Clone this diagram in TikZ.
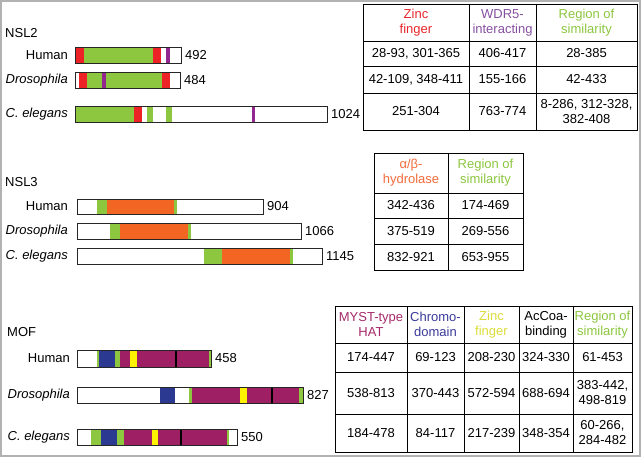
\documentclass[tikz,border=0pt]{standalone}
\usepackage{fontspec}
\setmainfont{Liberation Sans}
\definecolor{cred}{HTML}{EC2227}
\definecolor{cgreen}{HTML}{8DC63F}
\definecolor{cpurple}{HTML}{92278F}
\definecolor{corange}{HTML}{F26522}
\definecolor{cblue}{HTML}{2B3990}
\definecolor{cmag}{HTML}{9E1F63}
\definecolor{cyel}{HTML}{FFF200}
\definecolor{hred}{HTML}{E8262B}
\definecolor{hpurple}{HTML}{8550A0}
\definecolor{hgreen}{HTML}{8CC63F}
\definecolor{horange}{HTML}{F26B3A}
\definecolor{hmag}{HTML}{A52A6B}
\definecolor{hblue}{HTML}{3A3A9A}
\definecolor{hyel}{HTML}{DCDC3A}
\tikzset{
  outl/.style={draw=black!85, line width=0.9pt},
  tline/.style={draw=black, line width=0.9pt},
  lab/.style={anchor=east, inner sep=0pt},
  num/.style={anchor=west, inner sep=0pt, xshift=4pt},
  sec/.style={anchor=west, inner sep=0pt},
  cell/.style={align=center, inner sep=0pt},
  blk/.style={draw=black, line width=1.3pt}
}
\begin{document}
\begin{tikzpicture}[x=1pt,y=-1pt, font=\fontsize{13}{15}\selectfont]
\useasboundingbox (0,0) rectangle (642,457);
\draw[gray!60, line width=1.2pt] (1,1) rectangle (640,456);

% ===== NSL2 =====
\node[sec] (nsl2) at (5,33) {NSL2};
% Human
\fill[cred] (76,47) rectangle (84,63);
\fill[cgreen] (84,47) rectangle (153,63);
\fill[cred] (153,47) rectangle (161,63);
\fill[cpurple] (166,47) rectangle (169.5,63);
\draw[outl] (75.5,47) rectangle (181,63);
\coordinate (b21) at (181,55);
\node[lab] (l21) at (68,55) {Human};
\node[num] (n21) at (b21) {492};
% Drosophila
\fill[cred] (79,72) rectangle (87,88);
\fill[cgreen] (87,72) rectangle (102,88);
\fill[cpurple] (102,72) rectangle (106,88);
\fill[cgreen] (106,72) rectangle (162,88);
\fill[cred] (162,72) rectangle (169.5,88);
\draw[outl] (75.5,72) rectangle (180,88);
\coordinate (b22) at (180,80);
\node[lab] (l22) at (68,80) {\itshape Drosophila};
\node[num] (n22) at (b22) {484};
% C. elegans
\fill[cgreen] (75.5,106) rectangle (134,122);
\fill[cred] (134,106) rectangle (142,122);
\fill[cgreen] (147,106) rectangle (153,122);
\fill[cgreen] (166,106) rectangle (172,122);
\fill[cpurple] (252,106) rectangle (255,122);
\draw[outl] (75.5,106) rectangle (327,122);
\coordinate (b23) at (327,114);
\node[lab] (l23) at (68,114) {\itshape C. elegans};
\node[num] (n23) at (b23) {1024};

% NSL2 table
\draw[tline] (363,4) rectangle (637,130);
\draw[tline] (469,4) -- (469,130);
\draw[tline] (536,4) -- (536,130);
\draw[tline] (363,41) -- (637,41);
\draw[tline] (363,66) -- (637,66);
\draw[tline] (363,93) -- (637,93);
\node[cell, text=hred] (t2h1) at (416,23) {Zinc\\finger};
\node[cell, text=hpurple] (t2h2) at (502.5,23) {WDR5-\\interacting};
\node[cell, text=hgreen] (t2h3) at (586.5,23) {Region of\\similarity};
\node[cell] at (416,53.5) {28-93, 301-365};
\node[cell] at (502.5,53.5) {406-417};
\node[cell] at (586.5,53.5) {28-385};
\node[cell] at (416,79.5) {42-109, 348-411};
\node[cell] at (502.5,79.5) {155-166};
\node[cell] at (586.5,79.5) {42-433};
\node[cell] at (416,111.5) {251-304};
\node[cell] at (502.5,111.5) {763-774};
\node[cell] at (586.5,111.5) {8-286, 312-328,\\382-408};

% ===== NSL3 =====
\node[sec] (nsl3) at (5,182) {NSL3};
% Human
\fill[cgreen] (97,199) rectangle (107,214);
\fill[corange] (107,199) rectangle (174,214);
\fill[cgreen] (174,199) rectangle (176.5,214);
\draw[outl] (77,199) rectangle (263,214);
\coordinate (b31) at (263,206.5);
\node[lab] (l31) at (68,206.5) {Human};
\node[num] (n31) at (b31) {904};
% Drosophila
\fill[cgreen] (110,223) rectangle (120,239);
\fill[corange] (120,223) rectangle (188,239);
\fill[cgreen] (188,223) rectangle (191,239);
\draw[outl] (77,223) rectangle (301,239);
\coordinate (b32) at (301,231);
\node[lab] (l32) at (68,231) {\itshape Drosophila};
\node[num] (n32) at (b32) {1066};
% C. elegans
\fill[cgreen] (204,248) rectangle (222,264);
\fill[corange] (222,248) rectangle (290,264);
\fill[cgreen] (290,248) rectangle (292.5,264);
\draw[outl] (77,248) rectangle (322,264);
\coordinate (b33) at (322,256);
\node[lab] (l33) at (68,256) {\itshape C. elegans};
\node[num] (n33) at (b33) {1145};

% NSL3 table
\draw[tline] (374,153) rectangle (523,270);
\draw[tline] (448,153) -- (448,270);
\draw[tline] (374,193) -- (523,193);
\draw[tline] (374,218) -- (523,218);
\draw[tline] (374,244) -- (523,244);
\node[cell, text=horange] (t3h1) at (411,173) {α/β-\\hydrolase};
\node[cell, text=hgreen] (t3h2) at (485.5,173) {Region of\\similarity};
\node[cell] at (411,205.5) {342-436};
\node[cell] at (485.5,205.5) {174-469};
\node[cell] at (411,231) {375-519};
\node[cell] at (485.5,231) {269-556};
\node[cell] at (411,257) {832-921};
\node[cell] at (485.5,257) {653-955};

% ===== MOF =====
\node[sec] (mof) at (7,332) {MOF};
% Human
\fill[cgreen] (97,350) rectangle (99,367);
\fill[cblue] (99,350) rectangle (115,367);
\fill[cgreen] (115,350) rectangle (120,367);
\fill[cmag] (120,350) rectangle (129.5,367);
\fill[cyel] (129.5,350) rectangle (136.5,367);
\fill[cmag] (136.5,350) rectangle (208.5,367);
\fill[cgreen] (208.5,350) rectangle (211,367);
\draw[blk] (176,350) -- (176,367);
\draw[outl] (77,350) rectangle (211,367);
\coordinate (b41) at (211,358.5);
\node[lab] (l41) at (70,358.5) {Human};
\node[num] (n41) at (b41) {458};
% Drosophila
\fill[cblue] (160,387) rectangle (175,403);
\fill[cgreen] (189,387) rectangle (192,403);
\fill[cmag] (192,387) rectangle (240,403);
\fill[cyel] (240,387) rectangle (247,403);
\fill[cmag] (247,387) rectangle (299,403);
\fill[cgreen] (299,387) rectangle (303,403);
\draw[blk] (272,387) -- (272,403);
\draw[outl] (77,387) rectangle (303,403);
\coordinate (b42) at (303,395);
\node[lab] (l42) at (70,395) {\itshape Drosophila};
\node[num] (n42) at (b42) {827};
% C. elegans
\fill[cgreen] (91,429) rectangle (101,445);
\fill[cblue] (101,429) rectangle (117,445);
\fill[cgreen] (117,429) rectangle (124,445);
\fill[cmag] (124,429) rectangle (152,445);
\fill[cyel] (152,429) rectangle (158,445);
\fill[cmag] (158,429) rectangle (227,445);
\fill[cgreen] (227,429) rectangle (229,445);
\draw[blk] (181,429) -- (181,445);
\draw[outl] (77,429) rectangle (237,445);
\coordinate (b43) at (237,437);
\node[lab] (l43) at (70,437) {\itshape C. elegans};
\node[num] (n43) at (b43) {550};

% MOF table
\draw[tline] (335,306) rectangle (632,452);
\foreach \xx in {407,464,519,573} \draw[tline] (\xx,306) -- (\xx,452);
\foreach \yy in {343,372,414} \draw[tline] (335,\yy) -- (632,\yy);
\node[cell, text=hmag] (t4h1) at (371,324.5) {MYST-type\\HAT};
\node[cell, text=hblue] (t4h2) at (435.5,324.5) {Chromo-\\domain};
\node[cell, text=hyel] (t4h3) at (491.5,324.5) {Zinc\\finger};
\node[cell] (t4h4) at (546,324.5) {AcCoa-\\binding};
\node[cell, text=hgreen] (t4h5) at (602.5,324.5) {Region of\\similarity};
\node[cell] at (371,357.5) {174-447};
\node[cell] at (435.5,357.5) {69-123};
\node[cell] at (491.5,357.5) {208-230};
\node[cell] at (546,357.5) {324-330};
\node[cell] at (602.5,357.5) {61-453};
\node[cell] at (371,393) {538-813};
\node[cell] at (435.5,393) {370-443};
\node[cell] at (491.5,393) {572-594};
\node[cell] at (546,393) {688-694};
\node[cell] at (602.5,393) {383-442,\\498-819};
\node[cell] at (371,433) {184-478};
\node[cell] at (435.5,433) {84-117};
\node[cell] at (491.5,433) {217-239};
\node[cell] at (546,433) {348-354};
\node[cell] at (602.5,433) {60-266,\\284-482};
\end{tikzpicture}
\end{document}
